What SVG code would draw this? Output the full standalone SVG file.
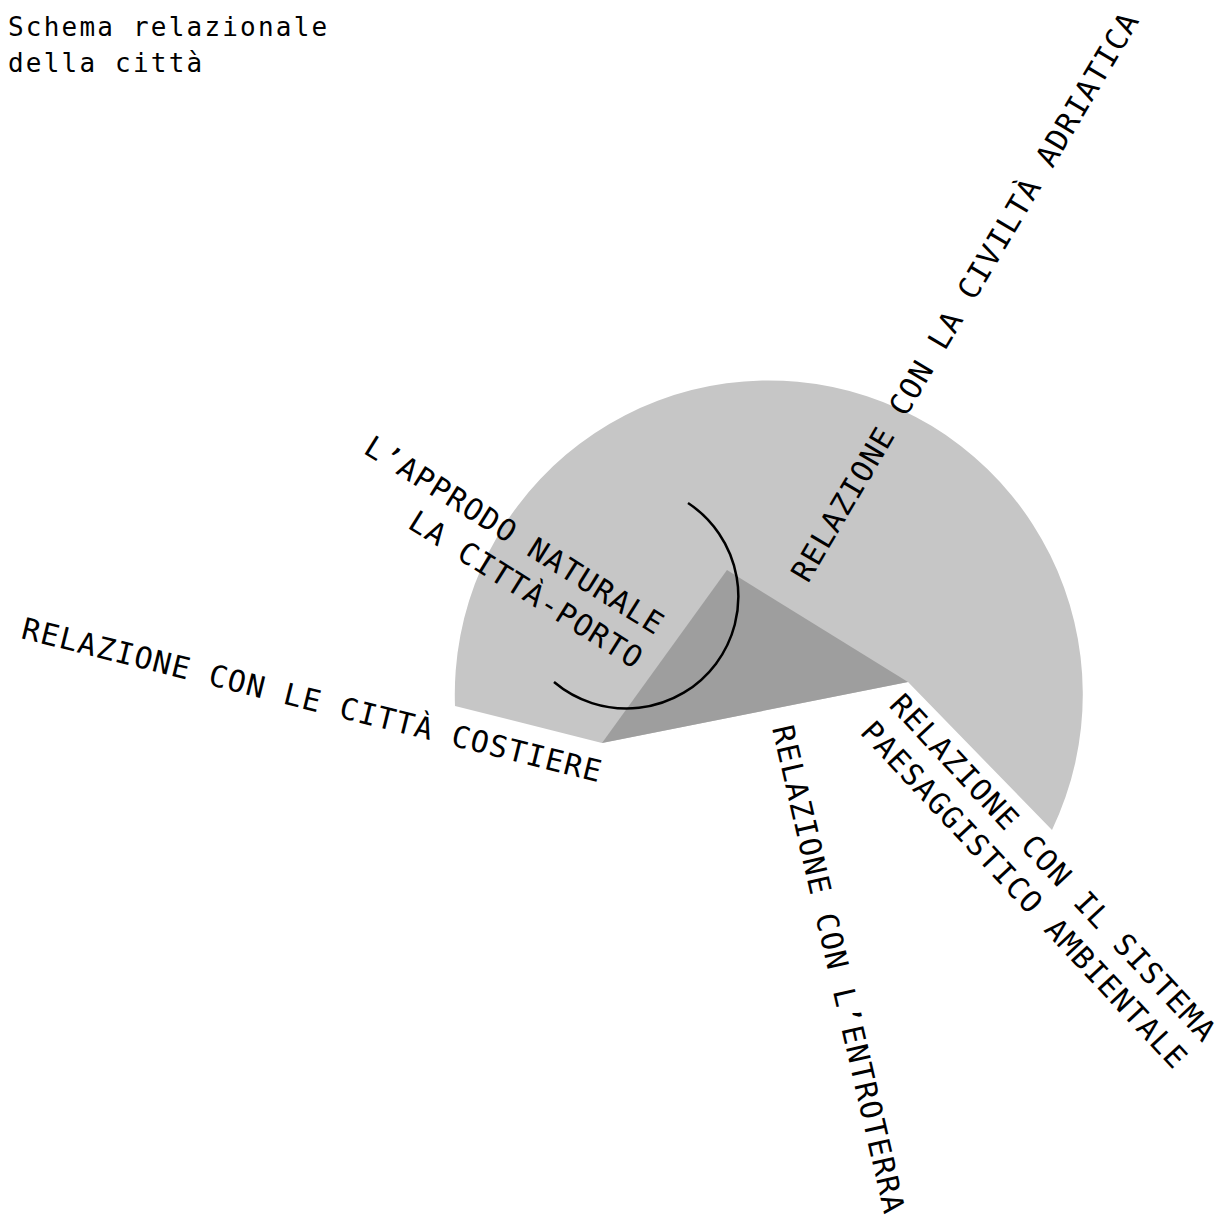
<svg xmlns="http://www.w3.org/2000/svg" width="1227" height="1227" viewBox="0 0 1227 1227">
<style>
.lbl{font-family:"DejaVu Sans Mono","Liberation Mono",monospace;font-size:30px;letter-spacing:1.2px;fill:#000}
.ttl{font-family:"DejaVu Sans Mono","Liberation Mono",monospace;font-size:26px;letter-spacing:2.2px;fill:#000}
</style>
<rect width="1227" height="1227" fill="#fff"/>
<g id="title">
<text class="ttl" x="8" y="36">Schema relazionale</text>
<text class="ttl" x="8" y="72">della città</text>
</g>
<g id="sector">
<path d="M602,743 L455,706 A314,314 0 1 1 1052,830 L908,682 Z" fill="#c6c6c6"/>
<path d="M727,570 L908,682 L602,743 Z" fill="#9e9e9e"/>
</g>
<g id="approdo-arc">
<path d="M688,503 A112,112 0 1 1 554,682" fill="none" stroke="#000" stroke-width="2.5"/>
</g>
<g id="label-adriatica">
<text class="lbl" transform="translate(808,584) rotate(-59.5)">RELAZIONE CON LA CIVILTÀ ADRIATICA</text>
</g>
<g id="label-approdo">
<text class="lbl" text-anchor="end" transform="translate(656,636) rotate(32)">L’APPRODO NATURALE</text>
<text class="lbl" text-anchor="end" transform="translate(635,670) rotate(32)">LA CITTÀ-PORTO</text>
</g>
<g id="label-costiere">
<text class="lbl" transform="translate(20,638) rotate(14)">RELAZIONE CON LE CITTÀ COSTIERE</text>
</g>
<g id="label-entroterra">
<text class="lbl" transform="translate(772,728) rotate(77)">RELAZIONE CON L’ENTROTERRA</text>
</g>
<g id="label-sistema">
<text class="lbl" transform="translate(888,706) rotate(47)">RELAZIONE CON IL SISTEMA</text>
<text class="lbl" transform="translate(859,733) rotate(47)">PAESAGGISTICO AMBIENTALE</text>
</g>
</svg>
